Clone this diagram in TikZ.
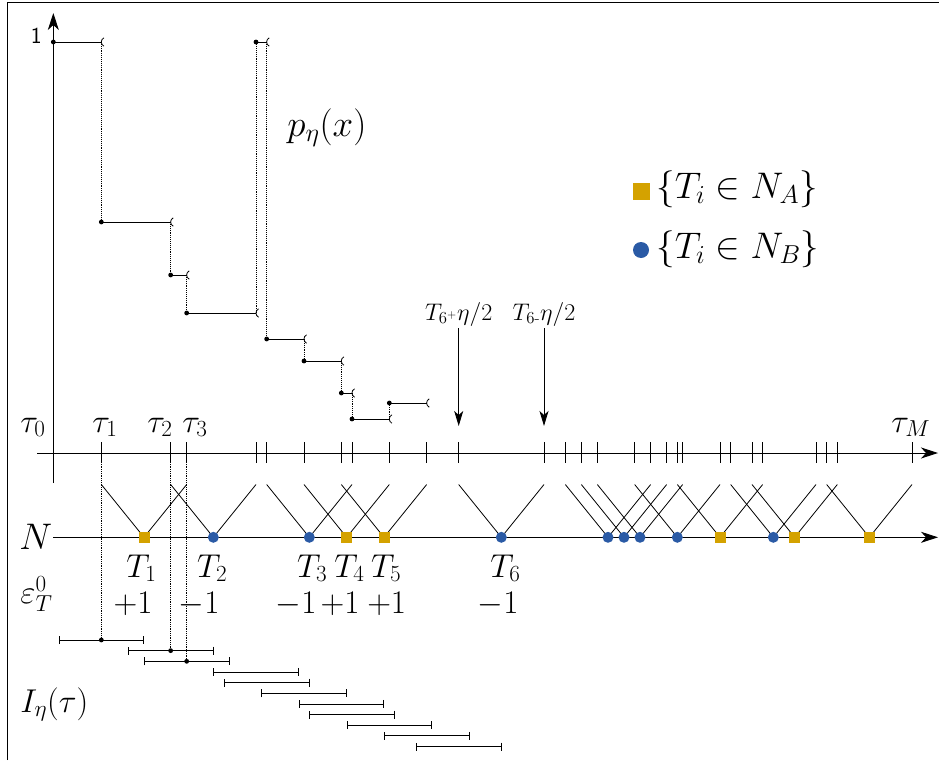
\RequirePackage{fix-cm}
\documentclass[tikz,border=0pt]{standalone}
\usepackage{amsmath}
\usetikzlibrary{arrows.meta}
\definecolor{goldpt}{RGB}{212,162,0}
\definecolor{bluept}{RGB}{42,90,165}
\begin{document}
\begin{tikzpicture}[x=1pt,y=-1pt,line width=0.9pt,
  big/.style={inner sep=0pt,anchor=base west,font=\fontsize{33}{39}\selectfont},
  bigc/.style={inner sep=0pt,anchor=base,font=\fontsize{33}{39}\selectfont},
  huge/.style={inner sep=0pt,anchor=base west,font=\fontsize{37}{44}\selectfont},
  small/.style={inner sep=0pt,anchor=base,font=\fontsize{24}{28}\selectfont},
  sqpt/.style={rectangle,fill=goldpt,inner sep=0pt,minimum size=11pt},
  cipt/.style={circle,fill=bluept,inner sep=0pt,minimum size=11pt},
  axtip/.style={-{Stealth[length=17pt,width=11pt,inset=5pt]}},
  downtip/.style={-{Stealth[length=15pt,width=9pt,inset=4pt]}},
  bars/.style={{Bar[width=8pt]}-{Bar[width=8pt]}},
  hookend/.pic={\draw[line width=0.8pt] (2.6,-4.2) .. controls (-0.9,-2.6) and (-0.9,2.6) .. (2.6,4.2);}
]
\useasboundingbox (0,0) rectangle (939,760);
% frame
\draw[line width=1.3pt] (7.5,760) -- (7.5,2.5) -- (939,2.5);

% axes
\coordinate (yb) at (53.333,483);
\coordinate (yt) at (53.333,13);
\draw[axtip] (yb) -- (yt);
\coordinate (tl) at (37,453);
\coordinate (tr) at (938,453);
\draw[axtip] (tl) -- (tr);
\coordinate (nl) at (53.333,537.3);
\coordinate (nr) at (938,537.3);
\draw[axtip] (nl) -- (nr);

% ticks on tau axis
\foreach \k in {9,22,25,38,40,47,54,56,63,70,76,92,96,99,102,109,112,115,117,118,125,127,131,133,143,145,147,161}
  \draw ({53.333+\k*5.3333},442) -- ({53.333+\k*5.3333},463);

% step function
\foreach \a/\b/\y in {0/9/42, 9/22/222, 22/25/275, 25/38/313, 38/40/42, 40/47/339, 47/54/361, 54/56/393, 56/63/419, 63/70/403}{
  \draw ({53.333+\a*5.3333},\y) -- ({53.333+\b*5.3333},\y);
  \fill ({53.333+\a*5.3333},\y) circle (2.4);
  \pic at ({53.333+\b*5.3333},\y) {hookend};
}
\foreach \k/\ya/\yb in {9/42/222, 22/222/275, 25/275/313, 38/313/42, 40/42/339, 47/339/361, 54/361/393, 56/393/419, 63/419/403}
  \draw[densely dotted] ({53.333+\k*5.3333},\ya) -- ({53.333+\k*5.3333},\yb);

% V lines and points on N
\foreach \k/\s [count=\i] in {17/sqpt,30/cipt,48/cipt,55/sqpt,62/sqpt,84/cipt,104/cipt,107/cipt,110/cipt,117/cipt,125/sqpt,135/cipt,139/sqpt,153/sqpt}{
  \coordinate (vl\i) at ({53.333+(\k-8)*5.3333},484.5);
  \coordinate (vr\i) at ({53.333+(\k+8)*5.3333},484.5);
  \coordinate (tc\i) at ({53.333+\k*5.3333},537.3);
  \draw[line width=0.8pt] (vl\i) -- (tc\i) -- (vr\i);
}
\foreach \k/\s [count=\i] in {17/sqpt,30/cipt,48/cipt,55/sqpt,62/sqpt,84/cipt,104/cipt,107/cipt,110/cipt,117/cipt,125/sqpt,135/cipt,139/sqpt,153/sqpt}
  \node[\s] (t\i) at (tc\i) {};

% intervals I_eta(tau)
\foreach \k [count=\i from 0] in {9,22,25,38,40,47,54,56,63,70,76}{
  \coordinate (il\i) at ({53.333+(\k-8)*5.3333},{640+\i*10.65});
  \coordinate (ir\i) at ({53.333+(\k+8)*5.3333},{640+\i*10.65});
  \draw[bars,line width=0.8pt] (il\i) -- (ir\i);
}
\foreach \k/\i in {9/0,22/1,25/2}{
  \coordinate (ic\i) at ({53.333+\k*5.3333},{640+\i*10.65});
  \coordinate (ia\i) at ({53.333+\k*5.3333},453);
  \draw[densely dotted,line width=0.8pt] (ia\i) -- (ic\i);
  \fill (ic\i) circle (2.4);
}

% eta/2 arrows
\node[small] (la) at (458.7,320) {$T_{6^+}\eta/2$};
\node[small] (lb) at (544,320) {$T_{6\text{-}}\eta/2$};
\coordinate (aa) at (458.7,426);
\coordinate (ab) at (544,426);
\draw[downtip] (458.7,328) -- (aa);
\draw[downtip] (544,328) -- (ab);

% labels
\node[inner sep=0pt,anchor=base west,font=\fontsize{23}{27}\selectfont\sffamily] (one) at (30.5,44) {1};
\node[huge] (peta) at (287,136) {$p_\eta(x)$};
\node[big] (tau0) at (20,432) {$\tau_0$};
\node[big] (tau1) at (92,432) {$\tau_1$};
\node[big] (tau2) at (147,432) {$\tau_2$};
\node[big] (tau3) at (182,432) {$\tau_3$};
\node[big] (tauM) at (891,432) {$\tau_M$};
\node[huge] (Nlab) at (19,549) {$N$};
\node[big] (T1) at (126,577) {$T_1$};
\node[big] (T2) at (196.7,577) {$T_2$};
\node[big] (T3) at (296.7,577) {$T_3$};
\node[big] (T4) at (334,577) {$T_4$};
\node[big] (T5) at (370.7,577) {$T_5$};
\node[big] (T6) at (490,577) {$T_6$};
\node[big] (eps) at (20,603) {$\varepsilon^0_T$};
\node[bigc] (e1) at (133,613) {$+1$};
\node[bigc] (e2) at (199,613) {$-1$};
\node[bigc] (e3) at (296,613) {$-1$};
\node[bigc] (e4) at (340,613) {$+1$};
\node[bigc] (e5) at (386.7,613) {$+1$};
\node[bigc] (e6) at (498,613) {$-1$};
\node[big] (Ilab) at (20,712) {$I_\eta(\tau)$};

% legend
\node[rectangle,fill=goldpt,inner sep=0pt,minimum size=17pt] (lgA) at (641.5,191) {};
\node[circle,fill=bluept,inner sep=0pt,minimum size=16pt] (lgB) at (641,250) {};
\node[huge] (lgAt) at (656,198) {$\{T_i\in N_A\}$};
\node[huge] (lgBt) at (656,258) {$\{T_i\in N_B\}$};
\end{tikzpicture}
\end{document}
